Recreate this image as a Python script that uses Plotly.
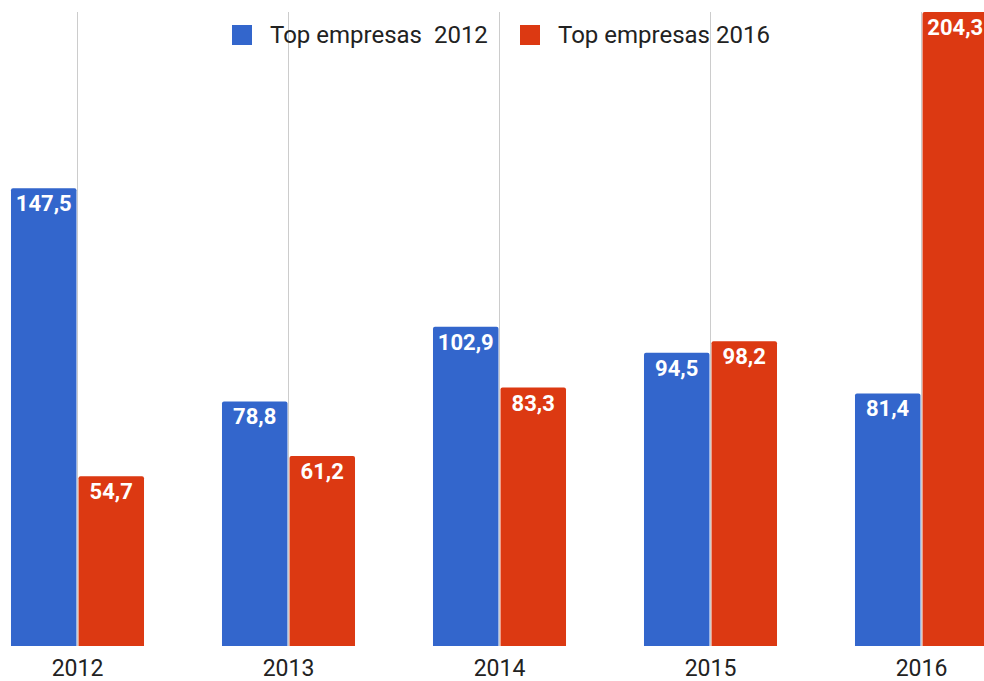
import plotly.graph_objects as go

# Data
years = ["2012", "2013", "2014", "2015", "2016"]
series_names = ["Top empresas\u00a0 2012", "Top empresas 2016"]
top_2012 = [147.5, 78.8, 102.9, 94.5, 81.4]
top_2016 = [54.7, 61.2, 83.3, 98.2, 204.3]
colors = ["#3366cc", "#dc3912"]

W, H = 984, 681
FONT = "Roboto"


def fmt(v):
    return f"{v:.1f}".replace(".", ",")


fig = go.Figure()
for name, vals, col in zip(series_names, [top_2012, top_2016], colors):
    fig.add_trace(go.Bar(
        x=years, y=vals, name=name,
        marker=dict(color=col, line=dict(width=0)),
        text=[fmt(v) for v in vals],
        textposition="inside",
        insidetextanchor="end",
        textangle=0,
        textfont=dict(family=FONT, size=22, color="white", weight="bold"),
        showlegend=False,
        cliponaxis=False,
    ))

# Legend: coloured squares with labels along the top
legend_x = [232, 520]
for name, col, lx in zip(series_names, colors, legend_x):
    fig.add_shape(type="rect", xref="paper", yref="paper",
                  x0=lx / W, x1=(lx + 20) / W,
                  y0=1 - 33 / (H - 47), y1=1 - 13 / (H - 47),
                  fillcolor=col, line=dict(width=0), layer="above")

fig.update_layout(
    width=W, height=H,
    margin=dict(l=0, r=0, t=12, b=35),
    paper_bgcolor="white", plot_bgcolor="white",
    barmode="group", bargap=0.36, bargroupgap=0.03,
    barcornerradius=2,
    uniformtext=dict(minsize=22, mode="show"),
    font=dict(family=FONT, color="#222222"),
    xaxis=dict(
        type="category",
        range=[-77.5 / 211, 4 + 62.5 / 211],
        showgrid=True, gridcolor="#cccccc", gridwidth=1,
        showline=False, zeroline=False, ticks="",
        ticklabelstandoff=6, automargin=False,
        tickfont=dict(family=FONT, size=23, color="#222222"),
    ),
    yaxis=dict(
        range=[0, 204.3], visible=False, showgrid=False, zeroline=False,
        automargin=False,
    ),
)

# Legend labels
for name, lx in zip(series_names, legend_x):
    fig.add_annotation(
        xref="paper", yref="paper",
        x=(lx + 36) / W, y=1 - 23 / (H - 47),
        xanchor="left", yanchor="middle",
        text=name, showarrow=False,
        font=dict(family=FONT, size=24, color="#222222"),
        bgcolor="rgba(255,255,255,0)",
    )

fig.write_html("out.html")
